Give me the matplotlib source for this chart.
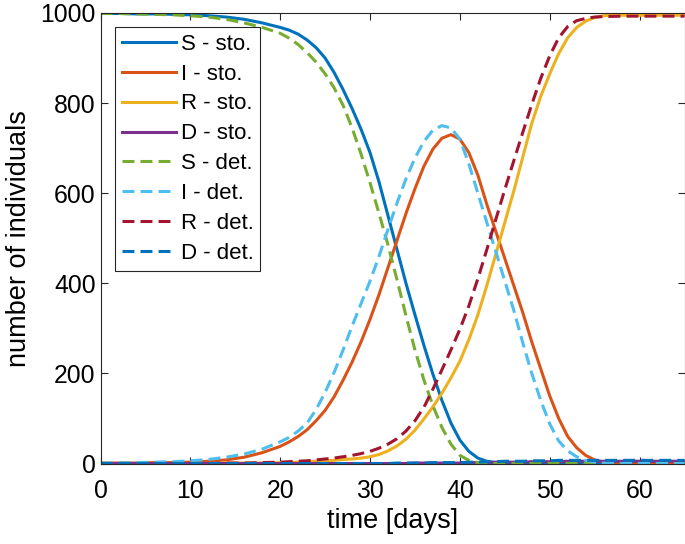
import numpy as np
import matplotlib.pyplot as plt

plt.rcParams['font.family'] = ['Liberation Sans', 'DejaVu Sans']

# time grid [days]
t = [0, 2, 4, 6, 8, 10, 12, 14, 16, 18,
     20, 21, 22, 23, 24, 25, 26, 27, 28, 29,
     30, 31, 32, 33, 34, 35, 36, 37, 38, 39,
     40, 41, 42, 43, 44, 45, 46, 47, 48, 49,
     50, 51, 52, 53, 54, 55, 56,
     58, 60, 62, 65]

# stochastic
S_sto = [999, 999, 998, 998, 997, 996, 994, 991, 986, 978,
         968, 962, 953, 940, 923, 900, 868, 830, 788, 742,
         690, 625, 550, 475, 400, 330, 262, 198, 140, 90,
         52, 27, 12, 5, 2, 1, 0, 0, 0, 0,
         0, 0, 0, 0, 0, 0, 0,
         0, 0, 0, 0]
I_sto = [1, 1, 1, 2, 2, 3, 5, 8, 14, 24,
         38, 48, 60, 75, 95, 118, 148, 185, 225, 270,
         320, 375, 435, 495, 555, 610, 660, 698, 722, 730,
         720, 690, 640, 575, 515, 455, 395, 335, 270, 210,
         150, 100, 60, 35, 18, 8, 3,
         1, 0, 0, 0]
R_sto = [0, 0, 0, 0, 0, 0, 0, 1, 1, 1,
         2, 2, 3, 4, 5, 6, 7, 9, 10, 12,
         15, 20, 28, 39, 54, 74, 99, 126, 156, 190,
         227, 275, 330, 395, 465, 535, 605, 680, 755, 815,
         865, 910, 945, 968, 982, 990, 994,
         995, 995, 995, 995]
D_sto = [0, 0, 0, 0, 0, 0, 0, 0, 0, 0,
         0, 0, 0, 0, 0, 0, 0, 0, 0, 0,
         0, 0, 0, 0, 0, 1, 1, 1, 1, 1,
         1, 2, 2, 2, 3, 3, 3, 3, 4, 4,
         4, 4, 5, 5, 5, 5, 5,
         5, 5, 5, 5]

# deterministic
S_det = [999, 999, 998, 997, 996, 994, 991, 986, 978, 968,
         955, 944, 930, 912, 891, 865, 834, 795, 745, 687,
         623, 555, 485, 408, 328, 252, 185, 128, 80, 43,
         18, 7, 2, 0, 0, 0, 0, 0, 0, 0,
         0, 0, 0, 0, 0, 0, 0,
         0, 0, 0, 0]
I_det = [1, 1, 2, 3, 4, 6, 9, 14, 21, 32,
         48, 58, 72, 90, 120, 158, 202, 252, 305, 355,
         405, 460, 520, 578, 632, 678, 715, 740, 750, 745,
         720, 665, 600, 535, 470, 405, 340, 268, 200, 140,
         88, 50, 28, 15, 7, 3, 1,
         0, 0, 0, 0]
R_det = [0, 0, 0, 0, 0, 0, 0, 1, 1, 2,
         3, 4, 5, 6, 8, 10, 12, 15, 18, 22,
         27, 34, 43, 55, 72, 95, 125, 165, 208, 252,
         298, 350, 410, 475, 542, 608, 672, 735, 797, 855,
         905, 945, 970, 983, 988, 991, 992,
         993, 993, 993, 993]
D_det = [0, 0, 0, 0, 0, 0, 0, 0, 0, 0,
         0, 0, 0, 0, 0, 0, 0, 0, 0, 0,
         0, 0, 0, 1, 1, 1, 1, 2, 2, 2,
         2, 3, 3, 4, 4, 5, 5, 5, 6, 6,
         6, 7, 7, 7, 7, 7, 7,
         7, 7, 7, 7]

sto = [S_sto, I_sto, R_sto, D_sto]
det = [S_det, I_det, R_det, D_det]
sto_labels = ['S - sto.', 'I - sto.', 'R - sto.', 'D - sto.']
det_labels = ['S - det.', 'I - det.', 'R - det.', 'D - det.']
sto_colors = ['#0072BD', '#D95319', '#EDB120', '#7E2F8E']
det_colors = ['#77AC30', '#4DBEEE', '#A2142F', '#0072BD']

fig = plt.figure(figsize=(6.85, 5.44), dpi=100)
ax = fig.add_axes([100.5 / 685, 1 - 463.5 / 544, 584 / 685, 450.5 / 544])

for y, lab, c in zip(sto, sto_labels, sto_colors):
    ax.plot(t, y, color=c, lw=2.2, label=lab, solid_joinstyle='round')
for y, lab, c in zip(det, det_labels, det_colors):
    ax.plot(t, y, color=c, lw=2.2, ls=(0, (3.9, 2.0)), label=lab,
            dash_joinstyle='round')

ax.set_xlim(0, 65)
ax.set_ylim(0, 1000)
ax.set_xticks(np.arange(0, 61, 10))
ax.set_yticks(np.arange(0, 1001, 200))
ax.tick_params(direction='in', top=True, right=True, length=5, width=0.8,
               labelsize=17.8, colors='#262626', labelcolor='black')
ax.tick_params(axis='x', pad=11)
for s in ax.spines.values():
    s.set_color('#262626')
    s.set_linewidth(0.8)

ax.set_xlabel('time [days]', fontsize=19.5, labelpad=4)
ax.set_ylabel('number of individuals', fontsize=19.5, labelpad=6)

leg = ax.legend(loc='upper left', bbox_to_anchor=(0.025, 0.969), borderaxespad=0,
                fontsize=16, handlelength=2.43, handletextpad=0.23,
                borderpad=0.3, labelspacing=0.4, fancybox=False, framealpha=1)
leg.get_frame().set_edgecolor('#262626')
leg.get_frame().set_linewidth(0.8)

plt.savefig('out.png', dpi=100)
